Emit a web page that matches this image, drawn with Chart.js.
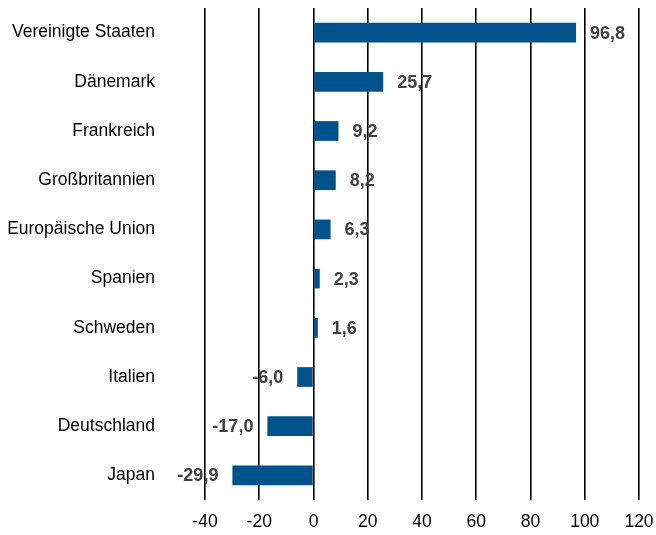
<!DOCTYPE html>
<html>
<head>
<meta charset="utf-8">
<script src="https://cdn.jsdelivr.net/npm/chart.js@4/dist/chart.umd.min.js"></script>
<style>
  html, body { margin: 0; padding: 0; background: #fff; overflow: hidden; }
  canvas { display: block; }
</style>
</head>
<body>
<canvas id="myChart" width="656" height="535"></canvas>
<script>
const countries = ['Vereinigte Staaten', 'Dänemark', 'Frankreich', 'Großbritannien', 'Europäische Union',
  'Spanien', 'Schweden', 'Italien', 'Deutschland', 'Japan']
const values = [96.8, 25.7, 9.2, 8.2, 6.3, 2.3, 1.6, -6.0, -17.0, -29.9]
const xTicks = [-40, -20, 0, 20, 40, 60, 80, 100, 120]

const ctx = document.getElementById('myChart')

// value labels next to the bar ends, german decimal comma
const barLabels = {
  id: 'barLabels',
  afterDatasetsDraw(chart) {
    const c = chart.ctx
    const meta = chart.getDatasetMeta(0)
    c.save()
    c.font = 'bold 18px "Liberation Sans", Arial, sans-serif'
    c.fillStyle = '#404040'
    c.textBaseline = 'middle'
    meta.data.forEach((bar, i) => {
      const v = values[i]
      const txt = v.toFixed(1).replace('.', ',')
      if (v >= 0) {
        c.textAlign = 'left'
        c.fillText(txt, bar.x + 14, bar.y + 1)
      } else {
        c.textAlign = 'right'
        c.fillText(txt, bar.x - 14, bar.y + 1)
      }
    })
    c.restore()
  }
}

new Chart(ctx, {
  type: 'bar',
  data: {
    labels: countries,
    datasets: [{
      data: values,
      backgroundColor: '#00528a',
      barPercentage: 0.4,
      categoryPercentage: 1
    }]
  },
  options: {
    indexAxis: 'y',
    responsive: false,
    animation: false,
    layout: { padding: { top: 8, right: 17, bottom: 0, left: 0 } },
    scales: {
      x: {
        min: -40,
        max: 120,
        afterBuildTicks: (axis) => { axis.ticks = xTicks.map((v) => ({ value: v })) },
        afterFit: (axis) => {
          axis.height = 35
          axis.paddingLeft = 0
          axis.paddingRight = 0
        },
        grid: { color: '#000', lineWidth: 1.6, drawTicks: false },
        border: { display: false },
        ticks: {
          padding: 12,
          color: '#000',
          font: { family: '"Liberation Sans", Arial, sans-serif', size: 17.5 }
        }
      },
      y: {
        afterFit: (axis) => {
          axis.width = 205
          axis.paddingTop = 0
          axis.paddingBottom = 0
        },
        grid: { display: false },
        border: { display: false },
        ticks: {
          padding: 42,
          color: '#000',
          font: { family: '"Liberation Sans", Arial, sans-serif', size: 17.5 }
        }
      }
    },
    plugins: {
      legend: { display: false },
      tooltip: { enabled: false }
    }
  },
  plugins: [barLabels]
})
</script>
</body>
</html>
